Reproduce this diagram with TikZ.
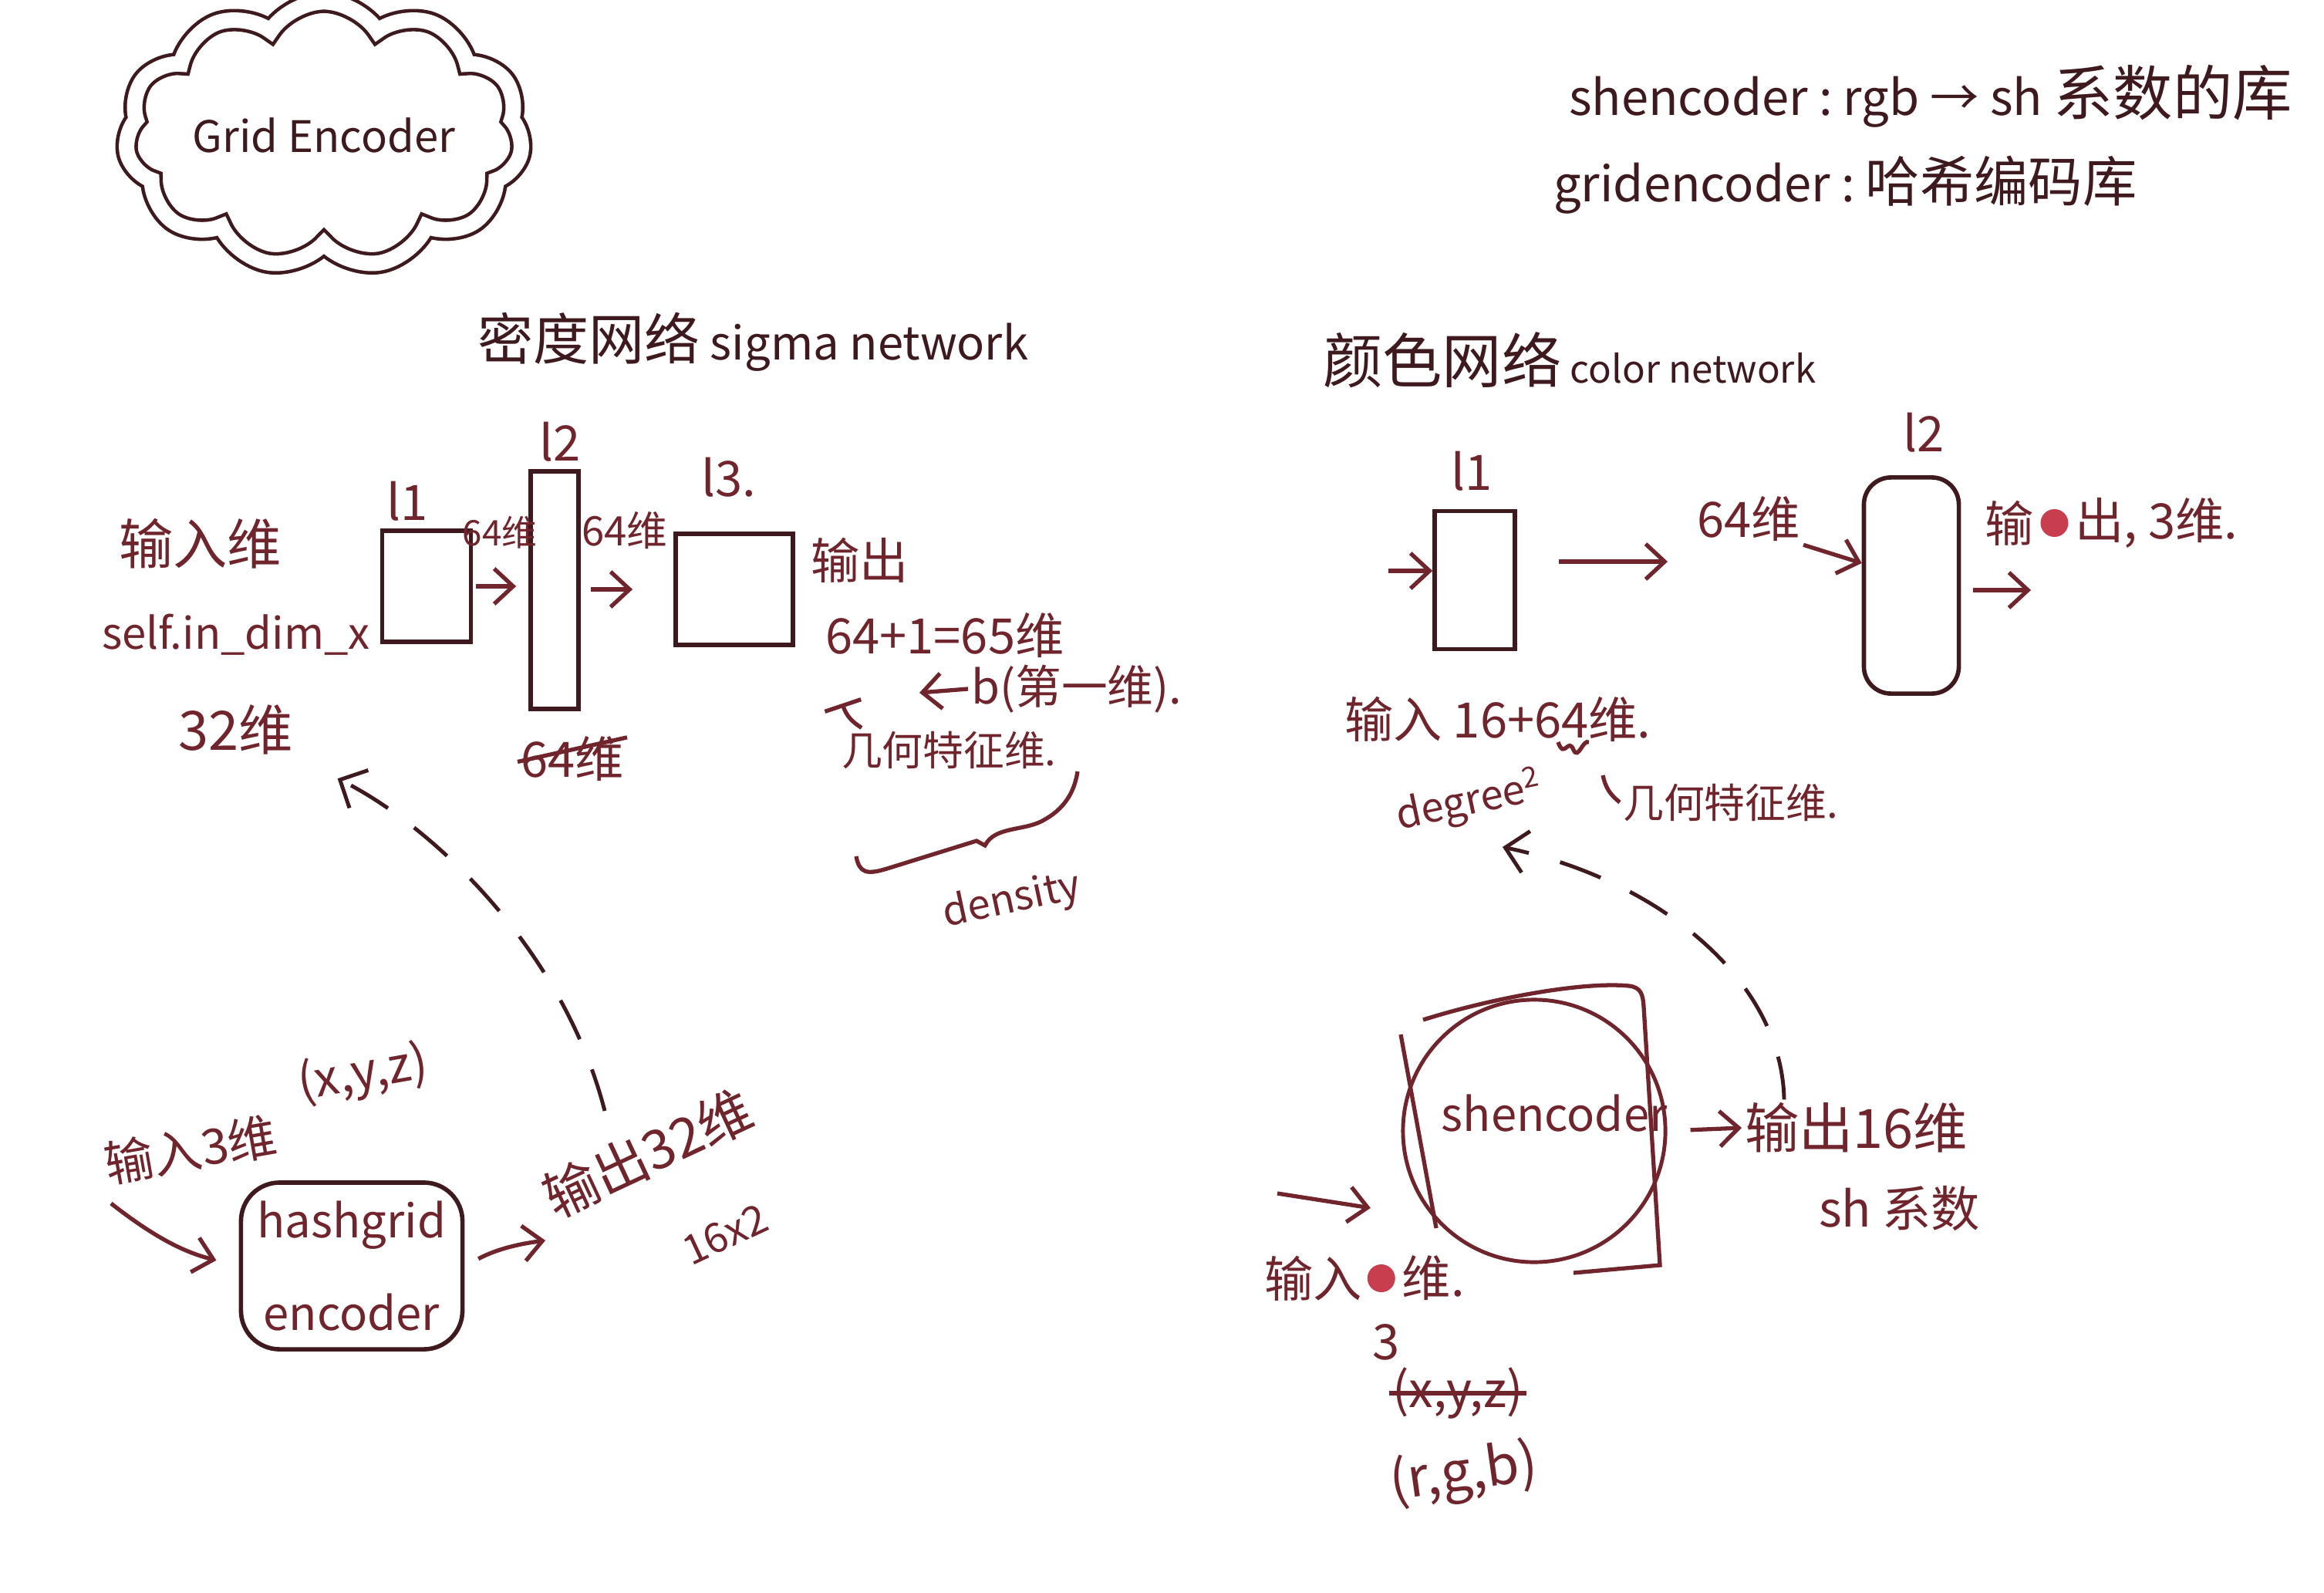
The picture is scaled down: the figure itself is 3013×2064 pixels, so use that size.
\documentclass[tikz,border=0pt]{standalone}
\usepackage{fontspec}
\setmainfont{Noto Sans CJK SC}
\usetikzlibrary{arrows.meta,shapes.symbols,positioning}
\definecolor{inkdark}{RGB}{62,26,30}
\definecolor{inkred}{RGB}{112,36,44}
\definecolor{blotred}{RGB}{200,62,78}
\newcommand\zhsz[2]{{\fontsize{#1}{#1}\selectfont #2}}
\tikzset{
  hand/.style = {font=\fontsize{18}{22}\selectfont, text=inkred, inner sep=1pt},
  handsm/.style = {hand, font=\fontsize{15}{18}\selectfont},
  handlg/.style = {hand, font=\fontsize{20}{24}\selectfont},
  handdark/.style = {hand, text=inkdark},
  layer/.style = {draw=inkdark, line width=1.6pt, inner sep=0pt},
  arr/.style = {draw=inkred, line width=1.5pt, -{Straight Barb[length=7pt,width=13pt]}},
  dashflow/.style = {draw=inkdark, line width=1.4pt, dash pattern=on 16pt off 12pt,
      -{Straight Barb[angle=90:11pt]}},
  barup/.style = {draw=inkred, line width=1.5pt, -{Bar[width=14pt]}},
  strike/.style = {draw=inkred, line width=1.5pt},
  blotdot/.style = {circle, fill=blotred, minimum size=0.36cm, inner sep=0pt}
}

\begin{document}
\begin{tikzpicture}[x=0.01cm, y=-0.01cm]
\useasboundingbox[fill=white] (0,0) rectangle (3013,2064);

% title cloud
\node[handdark, font=\fontsize{16}{19}\selectfont, cloud, cloud puffs=11, cloud puff arc=115,
  aspect=1.75, draw=inkdark, line width=1.3pt, double, double distance=0.2cm,
  minimum width=4.9cm, minimum height=2.7cm] (gridcloud) at (420,175) {Grid Encoder};

% notes top right
\node[handdark, anchor=west] (shnote) at (2030,125) {shencoder :\ rgb → sh \zhsz{22}{系数的库}};
\node[handdark, anchor=west] (gridnote) at (2010,240) {gridencoder :\ \zhsz{20}{哈希编码库}};

% titles
\node[handdark, anchor=west, font=\fontsize{17}{20}\selectfont] (sigtitle) at (615,443) {\zhsz{20.5}{密度网络} sigma network};
\node[handdark, anchor=west, font=\fontsize{14}{17}\selectfont] (coltitle) at (1711,467) {\zhsz{22}{颜色网络} color network};

% sigma network
\node[layer, minimum width=1.15cm, minimum height=1.44cm] (sl1) at (553,760) {};
\node[layer, minimum width=0.62cm, minimum height=3.08cm] (sl2) at (719,765) {};
\node[layer, minimum width=1.52cm, minimum height=1.44cm] (sl3) at (952,764) {};
\node[hand] (sl1lab) at (528,650) {l1};
\node[hand] (sl2lab) at (726,573) {l2};
\node[hand] (sl3lab) at (945,619) {l3.};
\node[handlg, anchor=west] (sin) at (150,705) {输入维};
\node[hand, font=\fontsize{16}{19}\selectfont, anchor=west] (sdim) at (128,823) {self.in\_dim\_x};
\node[handlg, anchor=west] (s32) at (227,946) {32维};
\node[handsm, font=\fontsize{13}{16}\selectfont] (s64a) at (648,690) {64维};
\node[handsm] (s64b) at (810,688) {64维};
\node[hand] (s64c) at (742,984) {64维};
\node[hand, anchor=west] (sout) at (1047,726) {输出};
\node[hand, anchor=west] (ssum) at (1066,824) {64+1=65维};
\node[hand, font=\fontsize{17}{20}\selectfont, anchor=west] (sbias) at (1255,893) {b(第一维).};
\node[handsm, anchor=west] (sgeo) at (1087,972) {几何特征维.};
\node[handsm, rotate=12] (sdens) at (1312,1168) {density};
\coordinate (sbiastip) at (1192,898);
\coordinate (ssumtip) at (1092,912);

\draw[arr, shorten <=0.04cm, shorten >=0.16cm] (sl1.east) -- (sl1.east -| sl2.west);
\draw[arr, shorten <=0.13cm, shorten >=0.53cm] (sl3.west -| sl2.east) -- (sl3.west);
\draw[arr] (sbias.west) -- (sbiastip);
\draw[barup] ([xshift=0.3cm]sgeo.north west) to[bend left=20] (ssumtip);
\draw[strike] ([yshift=-1pt]s64c.west) -- ([yshift=8pt]s64c.east);
% brace
\draw[strike] (1110,1110) .. controls (1114,1132) and (1124,1134) .. (1150,1126)
  -- (1266,1090) -- (1277,1096) .. controls (1290,1070) and (1330,1078) .. (1355,1062)
  .. controls (1385,1045) and (1394,1020) .. (1397,1000);

% hashgrid encoder
\node[hand, layer, rounded corners=0.5cm, minimum width=2.87cm, minimum height=2.16cm,
  align=center, font=\fontsize{17}{20}\selectfont] (hash) at (456,1641) {hashgrid\\[14pt]encoder};
\node[hand, rotate=10] (hin3) at (247,1490) {输入3维};
\node[hand, rotate=10] (hxyz) at (471,1393) {(x,y,z)};
\node[handlg, rotate=25] (hout32) at (840,1495) {输出32维};
\node[handsm, rotate=25] (h16) at (940,1600) {16x2};
\coordinate (hinpt) at (144,1560);
\coordinate (houtpt) at (707,1608);
\coordinate (gdash) at (784,1440);

\draw[arr, shorten >=0.3cm] (hinpt) to[bend right=12] (hash.west);
\draw[arr, shorten <=0.2cm] (hash.east) to[bend left=10] (houtpt);
\draw[dashflow, shorten >=0.6cm] (gdash) .. controls (730,1230) and (560,1070) .. (s32.south east);

% color network
\node[layer, minimum width=1.04cm, minimum height=1.79cm] (cl1) at (1912,752) {};
\node[layer, rounded corners=0.35cm, minimum width=1.23cm, minimum height=2.8cm] (cl2) at (2478,759) {};
\node[hand] (cl1lab) at (1908,611) {l1};
\node[hand] (cl2lab) at (2494,561) {l2};
\node[hand] (c64) at (2267,673) {64维};
\node[hand, anchor=west] (cout) at (2569,678) {输};
\node[blotdot, right=0.04cm of cout] (coutblot) {};
\node[hand, right=0.04cm of coutblot] (cout2) {出, 3维.};
\node[hand, anchor=west] (cin) at (1739,932) {输入 16+64维.};
\node[handsm, rotate=12] (cdeg) at (1905,1040) {degree\textsuperscript{2}};
\node[handsm, anchor=west] (cgeo) at (2100,1040) {几何特征维.};
\coordinate (cinpt) at (1800,740);
\coordinate (cmid) at (2162,728);
\coordinate (coutpt) at (2633,765);
\coordinate (ctilde) at (2078,1005);
\coordinate (cdegtip) at (1948,1098);

\draw[arr] (cinpt) -- (cinpt -| cl1.west);
\draw[arr, shorten <=0.54cm] (cl1.east |- cmid) -- (cmid);
\draw[arr] (c64.south east) -- ([yshift=0.29cm]cl2.west);
\draw[arr, shorten <=0.16cm] (cl2.east |- coutpt) -- (coutpt);
\draw[strike] (2020,962) .. controls (2028,985) and (2033,955) .. (2040,972)
  .. controls (2046,986) and (2052,958) .. (2060,962);
\draw[strike] (ctilde) to[bend right=20] (cgeo.west);

% shencoder
\node[circle, draw=inkred, line width=1.4pt, minimum size=3.4cm] (sh) at (1989,1466) {};
\draw[strike] (1816,1341) -- (1862,1592);
\draw[strike] (1845,1322) .. controls (1930,1295) and (2050,1272) .. (2112,1278)
  .. controls (2128,1280) and (2130,1290) .. (2131,1305) -- (2152,1640) -- (2040,1650);
\node[hand, font=\fontsize{17}{20}\selectfont] (shtxt) at (2015,1443) {shencoder};
\node[handlg, anchor=west] (shout) at (2258,1462) {输出16维};
\node[hand, anchor=west] (shsh) at (2354,1566) {sh 系数};
\node[hand, anchor=west] (shin) at (1635,1657) {输入};
\node[blotdot, right=0.02cm of shin] (shinblot) {};
\node[hand, right=0.04cm of shinblot] (shin2) {维.};
\node[hand] (sh3) at (1797,1740) {3};
\node[hand] (shxyz) at (1890,1806) {(x,y,z)};
\node[handlg, rotate=8] (shrgb) at (1898,1912) {(r,g,b)};
\coordinate (shinpt) at (1656,1547);

\draw[arr, shorten <=0.3cm] (sh.east) -- (shout.west);
\draw[arr, shorten >=0.4cm] (shinpt) -- ([yshift=-1.06cm]sh.west);
\draw[strike] (shxyz.west) -- (shxyz.east);
\draw[dashflow] ([xshift=0.55cm]shout.north west) .. controls (2310,1270) and (2150,1140) .. (cdegtip);
\end{tikzpicture}
\end{document}
